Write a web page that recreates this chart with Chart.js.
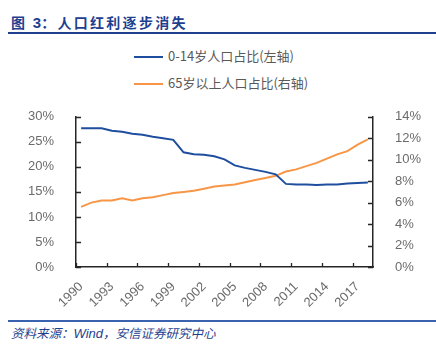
<!DOCTYPE html>
<html>
<head>
<meta charset="utf-8">
<script src="https://cdn.jsdelivr.net/npm/chart.js@4/dist/chart.umd.min.js"></script>
<style>
  html, body { margin: 0; padding: 0; background: #fff; }
  body { width: 436px; height: 346px; position: relative; overflow: hidden; font-family: "Noto Sans CJK SC", "Liberation Sans", sans-serif; }
  #title { position: absolute; left: 11px; top: 12px; font-size: 14px; font-weight: bold; color: #1F3F8F; letter-spacing: 2.3px; line-height: 20px; white-space: nowrap; }
  #title .num { font-family: "Liberation Sans", Arial, sans-serif; font-size: 15px; letter-spacing: 0; }
  #topline { position: absolute; left: 8px; top: 32px; width: 428px; height: 2px; background: #1F3F8F; }
  #botline { position: absolute; left: 8px; top: 320px; width: 428px; height: 1.5px; background: #3A62AE; }
  #source { position: absolute; left: 11px; top: 324px; font-size: 12.5px; font-style: italic; color: #1F3F8F; white-space: nowrap; line-height: 18px; }
  #source .en { font-family: "Liberation Sans", Arial, sans-serif; font-size: 13px; }
  #legend { position: absolute; left: 134px; top: 46px; }
  .lg { position: absolute; left: 0; height: 20px; white-space: nowrap; }
  .lg .sw { position: absolute; left: 0; top: 10px; width: 29px; height: 2px; }
  .lg .tx { position: absolute; left: 34px; top: 0; font-size: 13px; line-height: 20px; color: #595959; }
  #wrap { position: absolute; left: 0; top: 95px; width: 436px; height: 220px; }
</style>
</head>
<body>
<div id="title">图 <span class="num">3</span>：人口红利逐步消失</div>
<div id="topline"></div>
<div id="legend"></div>
<div id="wrap"><canvas id="c" width="436" height="220"></canvas></div>
<div id="botline"></div>
<div id="source">资料来源：<span class="en">Wind</span>，安信证券研究中心</div>
<script>
const years = ['1990','1991','1992','1993','1994','1995','1996','1997','1998','1999','2000','2001','2002','2003','2004','2005','2006','2007','2008','2009','2010','2011','2012','2013','2014','2015','2016','2017','2018'];
const age0to14 = [27.7,27.7,27.7,27.2,27.0,26.6,26.4,26.0,25.7,25.4,22.9,22.5,22.4,22.1,21.5,20.3,19.8,19.4,19.0,18.5,16.6,16.5,16.5,16.4,16.5,16.5,16.7,16.8,16.9];
const age65plus = [5.6,6.0,6.2,6.2,6.4,6.2,6.4,6.5,6.7,6.9,7.0,7.1,7.3,7.5,7.6,7.7,7.9,8.1,8.3,8.5,8.9,9.1,9.4,9.7,10.1,10.5,10.8,11.4,11.9];
const seriesLabels = ['0-14岁人口占比(左轴)', '65岁以上人口占比(右轴)'];
const seriesColors = ['#1F4E9F', '#F79646'];
const leftTicks = [0,5,10,15,20,25,30];
const rightTicks = [0,2,4,6,8,10,12,14];

const AXIS_COLOR = '#262626';
const TICK_FONT = { family: '"Liberation Sans", Arial, sans-serif', size: 13 };
const TICK_COLOR = '#6b6b6b';

const inwardTicks = {
  id: 'inwardTicks',
  afterDraw(chart) {
    const ctx = chart.ctx;
    const x = chart.scales.x, yl = chart.scales.yL, yr = chart.scales.yR;
    ctx.save();
    ctx.strokeStyle = AXIS_COLOR;
    ctx.lineWidth = 1.3;
    ctx.beginPath();
    const half = (x.getPixelForValue(1) - x.getPixelForValue(0)) / 2;
    const by = chart.chartArea.bottom;
    for (let i = 0; i < years.length; i += 3) {
      const px = Math.round(x.getPixelForValue(i) - half) + 0.5;
      ctx.moveTo(px, by); ctx.lineTo(px, by - 4);
    }
    const lx = chart.chartArea.left;
    yl.ticks.forEach(t => { const py = Math.round(yl.getPixelForValue(t.value)) + 0.5; ctx.moveTo(lx, py); ctx.lineTo(lx + 5, py); });
    const rx = chart.chartArea.right;
    yr.ticks.forEach(t => { const py = Math.round(yr.getPixelForValue(t.value)) + 0.5; ctx.moveTo(rx, py); ctx.lineTo(rx - 5, py); });
    ctx.stroke();
    ctx.restore();
  }
};

const legendEl = document.getElementById('legend');
seriesLabels.forEach((lab, i) => {
  const d = document.createElement('div');
  d.className = 'lg';
  d.style.top = (i * 26.5) + 'px';
  d.innerHTML = '<div class="sw" style="background:' + seriesColors[i] + '"></div><div class="tx"></div>';
  d.querySelector('.tx').textContent = lab;
  legendEl.appendChild(d);
});

new Chart(document.getElementById('c'), {
  type: 'line',
  data: {
    labels: years,
    datasets: [
      { label: seriesLabels[0], data: age0to14, yAxisID: 'yL', borderColor: seriesColors[0], borderWidth: 2, pointRadius: 0, tension: 0, fill: false },
      { label: seriesLabels[1], data: age65plus, yAxisID: 'yR', borderColor: seriesColors[1], borderWidth: 2, pointRadius: 0, tension: 0, fill: false }
    ]
  },
  options: {
    responsive: false,
    animation: false,
    layout: { padding: { top: 17, left: 0, right: 0, bottom: 0 } },
    plugins: { legend: { display: false }, tooltip: { enabled: false } },
    scales: {
      x: {
        type: 'category',
        offset: true,
        grid: { display: false },
        border: { display: true, color: AXIS_COLOR, width: 1.5 },
        ticks: {
          autoSkip: false, maxRotation: 45, minRotation: 45, padding: 4,
          font: TICK_FONT, color: TICK_COLOR,
          callback: function(v, i) { return i % 3 === 0 ? years[i] : ''; }
        },
        afterFit: s => { s.height = 48; }
      },
      yL: {
        position: 'left', min: 0, max: 30,
        afterBuildTicks: s => { s.ticks = leftTicks.map(v => ({ value: v })); },
        grid: { display: false },
        border: { display: true, color: AXIS_COLOR, width: 1.5 },
        ticks: { padding: 14, font: TICK_FONT, color: TICK_COLOR, callback: v => v + '%' },
        afterFit: s => { s.width = 76; }
      },
      yR: {
        position: 'right', min: 0, max: 14,
        afterBuildTicks: s => { s.ticks = rightTicks.map(v => ({ value: v })); },
        grid: { display: false },
        border: { display: true, color: AXIS_COLOR, width: 1.5 },
        ticks: { padding: 14, font: TICK_FONT, color: TICK_COLOR, callback: v => v + '%' },
        afterFit: s => { s.width = 63; }
      }
    }
  },
  plugins: [inwardTicks]
});
</script>
</body>
</html>
